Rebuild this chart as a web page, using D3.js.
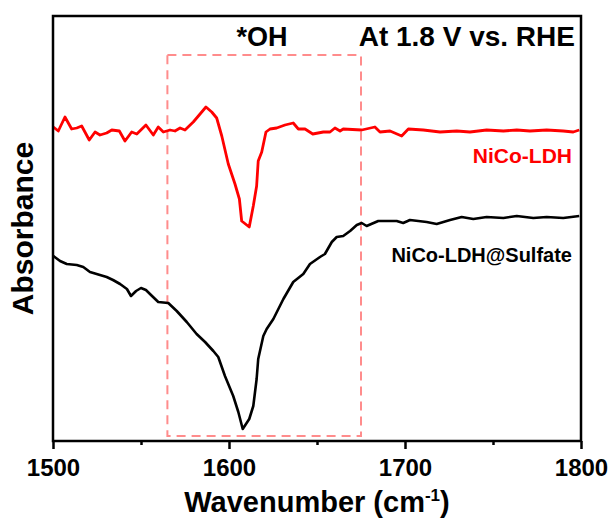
<!DOCTYPE html>
<html>
<head>
<meta charset="utf-8">
<script src="https://cdn.jsdelivr.net/npm/d3@7"></script>
<style>
  html, body { margin: 0; padding: 0; background: #fff; }
  svg text { font-family: "Liberation Sans", Arial, sans-serif; font-weight: bold; }
</style>
</head>
<body>
<svg id="chart" width="611" height="522"></svg>
<script>
// In situ IR spectra at 1.8 V vs. RHE (absorbance, arbitrary offset units)
const nicoWn = [1500.2,1503.0,1506.8,1510.6,1513.5,1516.3,1520.6,1523.9,1526.7,1530.5,1533.4,1537.7,1540.9,1544.7,1547.6,1552.8,1557.0,1559.8,1562.7,1566.5,1569.3,1572.2,1575.0,1579.7,1582.6,1586.9,1590.2,1593.0,1595.9,1599.6,1603.4,1605.9,1607.2,1611.5,1613.8,1615.7,1616.6,1618.6,1621.0,1623.3,1627.1,1631.8,1636.5,1639.4,1643.2,1647.6,1653.6,1657.4,1660.2,1663.1,1664.9,1675.4,1682.9,1685.8,1691.5,1698.1,1701.9,1710.4,1719.9,1729.4,1736.9,1746.4,1755.9,1763.5,1771.0,1780.5,1789.9,1795.6,1799.0];
const nicoAbs = [3.14,3.10,3.24,3.12,3.13,3.15,3.01,3.09,3.06,3.08,3.11,3.10,3.00,3.09,3.07,3.16,3.06,3.14,3.09,3.11,3.10,3.13,3.11,3.19,3.25,3.34,3.29,3.23,3.05,2.77,2.57,2.42,2.20,2.14,2.35,2.55,2.80,2.89,3.09,3.12,3.13,3.16,3.18,3.12,3.12,3.07,3.09,3.09,3.13,3.10,3.12,3.11,3.14,3.09,3.10,3.05,3.12,3.11,3.09,3.10,3.09,3.11,3.10,3.11,3.10,3.11,3.10,3.09,3.11];

const sulfWn = [1500.2,1504.0,1507.8,1513.5,1517.2,1521.0,1524.8,1530.5,1534.1,1538.1,1542.0,1544.3,1547.2,1550.0,1552.8,1555.1,1559.8,1565.5,1570.3,1576.0,1581.6,1586.4,1591.1,1593.9,1597.7,1602.4,1605.3,1607.8,1611.5,1613.8,1615.7,1616.6,1619.5,1621.4,1625.2,1630.9,1636.5,1642.2,1646.0,1651.7,1654.5,1658.4,1661.2,1664.9,1668.8,1672.6,1675.4,1678.2,1684.8,1695.3,1699.0,1702.8,1712.3,1718.0,1725.6,1732.2,1738.8,1746.4,1755.9,1763.5,1772.9,1780.5,1789.9,1799.0];
const sulfAbs = [1.85,1.80,1.77,1.76,1.74,1.69,1.67,1.64,1.61,1.57,1.52,1.45,1.50,1.53,1.51,1.47,1.39,1.38,1.30,1.19,1.07,0.99,0.90,0.84,0.65,0.45,0.29,0.12,0.22,0.35,0.62,0.82,1.05,1.12,1.22,1.42,1.59,1.67,1.77,1.84,1.87,1.99,2.04,2.05,2.10,2.16,2.18,2.15,2.20,2.20,2.18,2.21,2.19,2.17,2.21,2.24,2.22,2.24,2.23,2.25,2.23,2.24,2.23,2.25];

const majorTicks = [1500, 1600, 1700, 1800];
const minorTicks = [1550, 1650, 1750];
const ohBandWn = [1565, 1675];     // *OH region
const ohBandAbs = [0.05, 3.86];

const svg = d3.select("#chart");
const m = { left: 53, right: 581, top: 16, bottom: 441 };

const x = d3.scaleLinear().domain([1500, 1800]).range([m.left, m.right]);
const y = d3.scaleLinear().domain([0, 4.25]).range([m.bottom, m.top]);

// dashed highlight box for the *OH band
svg.append("rect")
  .attr("x", x(ohBandWn[0]))
  .attr("y", y(ohBandAbs[1]))
  .attr("width", x(ohBandWn[1]) - x(ohBandWn[0]))
  .attr("height", y(ohBandAbs[0]) - y(ohBandAbs[1]))
  .attr("fill", "none")
  .attr("stroke", "#ff8c8c")
  .attr("stroke-width", 2)
  .attr("stroke-dasharray", "9,6");

const line = d3.line().x(d => x(d[0])).y(d => y(d[1]));

svg.append("path")
  .datum(d3.zip(sulfWn, sulfAbs))
  .attr("d", line)
  .attr("fill", "none")
  .attr("stroke", "#000")
  .attr("stroke-width", 2.6)
  .attr("stroke-linejoin", "round");

svg.append("path")
  .datum(d3.zip(nicoWn, nicoAbs))
  .attr("d", line)
  .attr("fill", "none")
  .attr("stroke", "#ff0000")
  .attr("stroke-width", 2.8)
  .attr("stroke-linejoin", "round");

// frame
svg.append("rect")
  .attr("x", m.left).attr("y", m.top)
  .attr("width", m.right - m.left).attr("height", m.bottom - m.top)
  .attr("fill", "none").attr("stroke", "#000").attr("stroke-width", 2.5);

// bottom axis
const xAxis = d3.axisBottom(x).tickValues(majorTicks).tickSize(8).tickPadding(10).tickFormat(d3.format("d"));
const gx = svg.append("g").attr("transform", `translate(0,${m.bottom})`).call(xAxis);
gx.select(".domain").remove();
gx.selectAll(".tick line").attr("stroke", "#000").attr("stroke-width", 2.5);
gx.selectAll(".tick text").attr("fill", "#000").style("font-size", "24px").style("font-family", "'Liberation Sans', Arial, sans-serif").style("font-weight", "bold");

const gMinor = svg.append("g").attr("transform", `translate(0,${m.bottom})`)
  .call(d3.axisBottom(x).tickValues(minorTicks).tickSize(4).tickFormat(""));
gMinor.select(".domain").remove();
gMinor.selectAll(".tick line").attr("stroke", "#000").attr("stroke-width", 2.5);

// axis titles
const xt = svg.append("text")
  .attr("x", (m.left + m.right) / 2)
  .attr("y", 512)
  .attr("text-anchor", "middle")
  .style("font-size", "29px");
xt.append("tspan").text("Wavenumber (cm");
xt.append("tspan").attr("dy", -11).style("font-size", "17px").text("-1");
xt.append("tspan").attr("dy", 11).text(")");

svg.append("text")
  .attr("transform", `translate(33,${(m.top + m.bottom) / 2}) rotate(-90)`)
  .attr("text-anchor", "middle")
  .style("font-size", "30px")
  .text("Absorbance");

// annotations
svg.append("text").attr("x", 262).attr("y", 46).attr("text-anchor", "middle")
  .style("font-size", "27px").text("*OH");
svg.append("text").attr("x", 575).attr("y", 46).attr("text-anchor", "end")
  .style("font-size", "28px").text("At 1.8 V vs. RHE");

svg.append("text").attr("x", 572).attr("y", 163).attr("text-anchor", "end")
  .attr("fill", "#ff0000").style("font-size", "21px").text("NiCo-LDH");
svg.append("text").attr("x", 572).attr("y", 262).attr("text-anchor", "end")
  .attr("fill", "#000").style("font-size", "20px").text("NiCo-LDH@Sulfate");
</script>
</body>
</html>
